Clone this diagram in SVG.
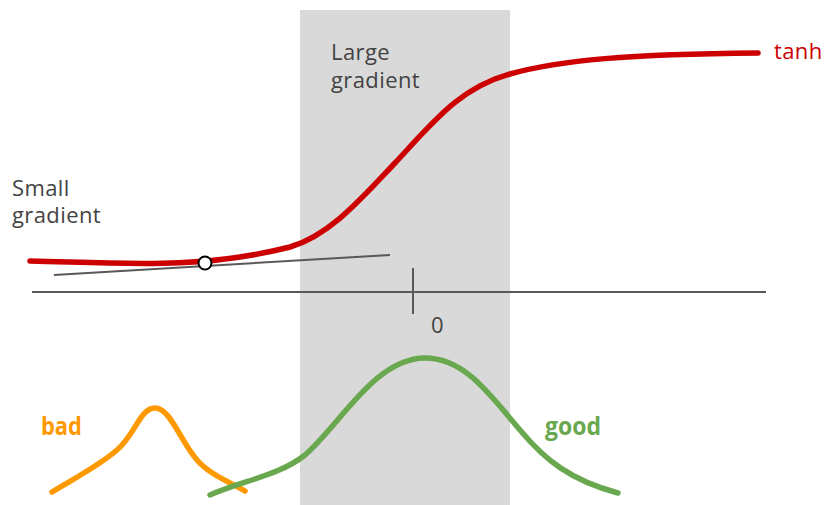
<svg xmlns="http://www.w3.org/2000/svg" width="825" height="505" viewBox="0 0 825 505">
<style>
.lbl{font-family:"Open Sans","Noto Sans",sans-serif;font-size:22px;letter-spacing:0.4px;fill:#434343}
.blbl{font-family:"Open Sans","Noto Sans",sans-serif;font-size:25px;font-weight:bold}
.curve{fill:none;stroke-linecap:round;stroke-linejoin:round}
</style>
<rect width="825" height="505" fill="#ffffff"/>
<g id="band"><rect x="300" y="10" width="210" height="495" fill="#d9d9d9"/></g>
<g id="connectors">
<line x1="32" y1="292" x2="766" y2="292" stroke="#595959" stroke-width="2"/>
<line x1="413" y1="268" x2="413" y2="314" stroke="#595959" stroke-width="2"/>
<line x1="54" y1="275" x2="390" y2="255" stroke="#595959" stroke-width="2"/>
</g>
<g id="tanh">
<path class="curve" d="M30,261 C120,263 200,270 290,247 C330,235 360,200 395,163 C435,120 460,88 510,74 C560,60 630,54 758,53" stroke="#cc0000" stroke-width="5.5"/>
<text x="774" y="59" class="lbl" style="fill:#cc0000">tanh</text>
</g>
<g id="point"><circle cx="205" cy="263" r="6.5" fill="#ffffff" stroke="#000000" stroke-width="2"/></g>
<g id="small"><text class="lbl"><tspan x="12" y="196">Small</tspan><tspan x="12" y="223">gradient</tspan></text></g>
<g id="large"><text class="lbl"><tspan x="331" y="60">Large</tspan><tspan x="331" y="88">gradient</tspan></text></g>
<g id="zero"><text x="431" y="333" class="lbl">0</text></g>
<g id="bad">
<path class="curve" d="M52,492 C75,478 100,465 117,450 C135,435 140,408 155,408 C170,408 180,440 197,460 C210,475 230,482 245,491" stroke="#ff9900" stroke-width="5.5"/>
<text x="41" y="435" class="blbl" style="fill:#ff9900" textLength="41" lengthAdjust="spacingAndGlyphs">bad</text>
</g>
<g id="good">
<path class="curve" d="M210,495 C245,480 280,475 305,455 C340,425 375,358 425,358 C465,358 490,395 520,430 C545,460 570,480 618,493" stroke="#6aa84f" stroke-width="5.5"/>
<text x="545" y="435" class="blbl" style="fill:#6aa84f" textLength="56" lengthAdjust="spacingAndGlyphs">good</text>
</g>
</svg>
